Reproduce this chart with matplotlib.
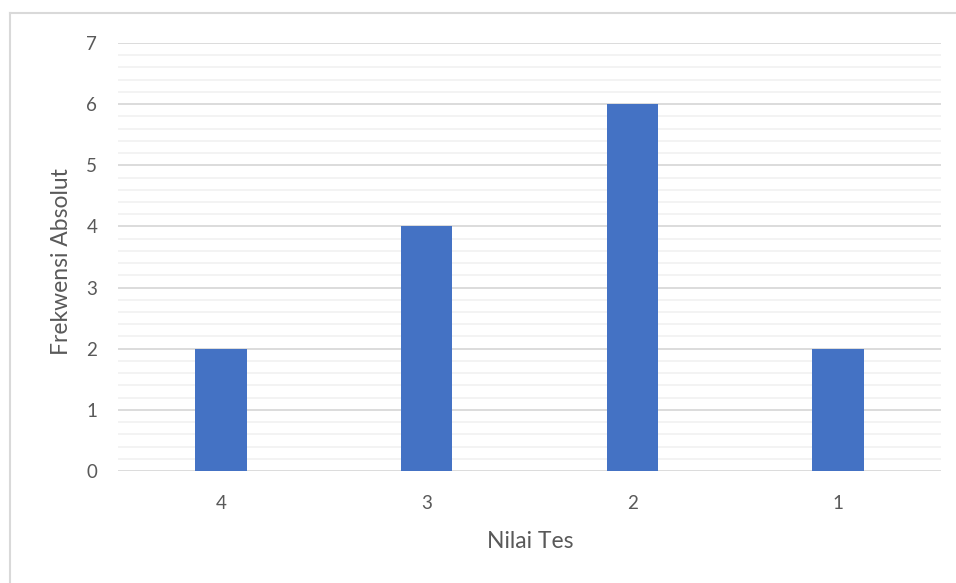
import matplotlib
matplotlib.use("Agg")
import matplotlib.pyplot as plt
from matplotlib.lines import Line2D
import numpy as np

categories = ["4", "3", "2", "1"]
values = [2, 4, 6, 2]

plt.rcParams['font.family'] = ['Lato', 'DejaVu Sans']

W, H = 956, 583
fig = plt.figure(figsize=(W/100, H/100), dpi=100)
ax = fig.add_axes([118/W, (H-471)/H, (941-118)/W, (471-43)/H])

x = np.arange(len(categories))
ax.bar(x, values, width=0.25, color='#4472c4', zorder=3)

ax.set_xlim(-0.5, len(categories)-0.5)
ax.set_ylim(0, 7)
ax.set_yticks(range(0, 8))
ax.set_yticks(np.arange(0, 7.01, 0.2), minor=True)
ax.set_xticks(x)
ax.set_xticklabels(categories)

ax.grid(axis='y', which='major', color='#d9d9d9', linewidth=1.3, zorder=0)
ax.grid(axis='y', which='minor', color='#f2f2f2', linewidth=1.3, zorder=0)
ax.tick_params(axis='both', which='both', length=0, colors='#595959', labelsize=13.5)
ax.tick_params(axis='y', pad=15)
ax.tick_params(axis='x', pad=17)
for s in ax.spines.values():
    s.set_visible(False)

ax.set_xlabel('Nilai Tes', fontsize=16.5, color='#595959')
ax.set_ylabel('Frekwensi Absolut', fontsize=16.5, color='#595959')
ax.xaxis.set_label_coords((530-118)/823, (471-542)/428)
ax.yaxis.set_label_coords((62-118)/823, (471-262)/428)
ax.xaxis.label.set_va('center')
ax.yaxis.label.set_va('center')

# chart border (top and left visible)
fig.add_artist(Line2D([9.5/W, 9.5/W], [0, (H-13)/H], transform=fig.transFigure, color='#d9d9d9', linewidth=1.5))
fig.add_artist(Line2D([9.5/W, 1], [(H-13)/H, (H-13)/H], transform=fig.transFigure, color='#d9d9d9', linewidth=1.5))

fig.savefig('out.png', dpi=100)
